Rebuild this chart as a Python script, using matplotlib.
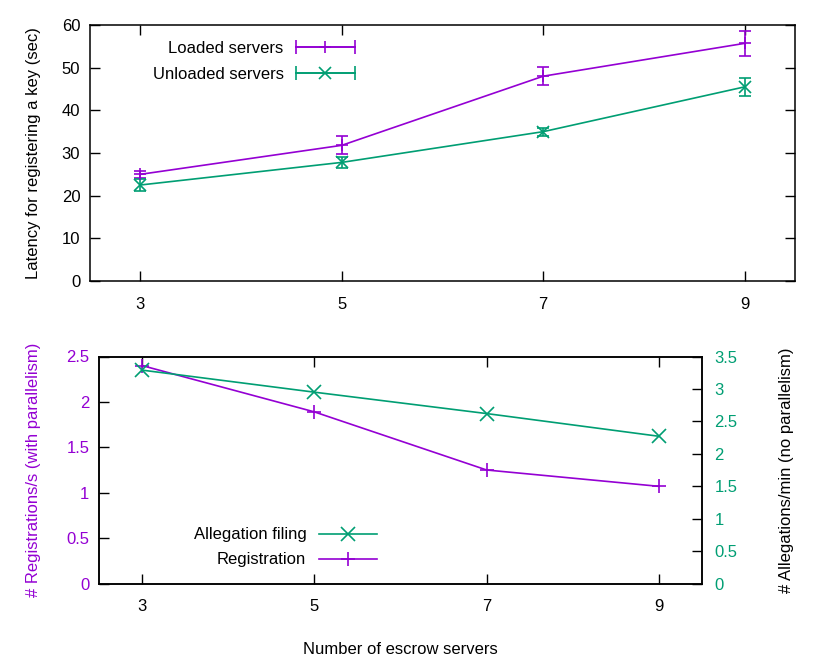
import matplotlib
matplotlib.use("Agg")
import matplotlib.pyplot as plt
from matplotlib.lines import Line2D
from matplotlib.legend_handler import HandlerLine2D, HandlerTuple

plt.rcParams['font.family'] = ['Liberation Sans', 'DejaVu Sans']
plt.rcParams['font.size'] = 12

# ---- data ----
servers = [3, 5, 7, 9]
loaded = [25.0, 31.8, 48.0, 55.7]
loaded_err = [0.8, 2.1, 2.1, 3.0]
unloaded = [22.5, 27.8, 35.0, 45.5]
unloaded_err = [1.3, 1.2, 0.9, 2.1]

registration = [2.40, 1.89, 1.25, 1.07]
allegation = [3.29, 2.95, 2.62, 2.27]

xticks = [3, 5, 7, 9]
top_yticks = [0, 10, 20, 30, 40, 50, 60]
left_yticks = [0, 0.5, 1, 1.5, 2, 2.5]
right_yticks = [0, 0.5, 1, 1.5, 2, 2.5, 3, 3.5]

PURPLE = '#9400D3'
GREEN = '#009E73'

W, H = 830, 664
fig = plt.figure(figsize=(W / 100, H / 100), dpi=100)

def style_axes(ax):
    for s in ax.spines.values():
        s.set_linewidth(1.1)
    ax.tick_params(direction='in', length=7, width=1.0, pad=7)
    ax.tick_params(axis='x', pad=11.5)

# ---- top plot ----
ax1 = fig.add_axes([90 / W, 1 - 281 / H, (795 - 90) / W, (281 - 25) / H])
ax1.errorbar(servers, loaded, yerr=loaded_err, color=PURPLE, marker='+', ms=9,
             mew=1.2, lw=1.2, capsize=4.5, elinewidth=1.2, capthick=1.2)
ax1.errorbar(servers, unloaded, yerr=unloaded_err, color=GREEN, marker='x', ms=9,
             mew=1.2, lw=1.2, capsize=4.5, elinewidth=1.2, capthick=1.2)
ax1.set_xlim(2.5, 9.5)
ax1.set_ylim(0, 60)
ax1.set_xticks(xticks)
ax1.set_yticks(top_yticks)
style_axes(ax1)
ax1.tick_params(top=True, right=True, labeltop=False, labelright=False)
ax1.set_ylabel('Latency for registering a key (sec)', labelpad=15)

def err_handle(color, marker):
    caps = Line2D([], [], color=color, lw=1.2, marker='|', ms=10, mew=1.2)
    mid = Line2D([], [], color=color, lw=1.2, marker=marker, ms=9, mew=1.2)
    return caps, mid

c1, m1 = err_handle(PURPLE, '+')
c2, m2 = err_handle(GREEN, 'x')
hmap = {c1: HandlerLine2D(numpoints=2, marker_pad=0),
        c2: HandlerLine2D(numpoints=2, marker_pad=0),
        m1: HandlerLine2D(numpoints=1), m2: HandlerLine2D(numpoints=1),
        tuple: HandlerTuple(ndivide=1)}
ax1.legend([(c1, m1), (c2, m2)], ['Loaded servers', 'Unloaded servers'],
           handler_map=hmap, loc='upper left', bbox_to_anchor=(0.07, 0.99),
           frameon=False, markerfirst=False, handlelength=3.5,
           handletextpad=0.75, labelspacing=0.65, borderaxespad=0.4)

# ---- bottom plot ----
ax2 = fig.add_axes([99 / W, 1 - 583.5 / H, (702 - 99) / W, (583.5 - 356.5) / H])
ax3 = ax2.twinx()
l_reg, = ax2.plot(servers, registration, color=PURPLE, marker='+', ms=10, mew=1.2, lw=1.2)
l_all, = ax3.plot(servers, allegation, color=GREEN, marker='x', ms=10, mew=1.2, lw=1.2)
ax2.set_xlim(2.5, 9.5)
ax2.set_ylim(0, 2.5)
ax3.set_ylim(0, 3.5)
ax2.set_xticks(xticks)
ax2.set_yticks(left_yticks)
ax3.set_yticks(right_yticks)
style_axes(ax2)
style_axes(ax3)
ax2.tick_params(axis='x', top=True)
ax2.tick_params(axis='y', labelcolor=PURPLE, color='black', right=False)
ax3.tick_params(axis='y', labelcolor=GREEN, color='black', pad=9)
ax2.set_yticklabels(['0', '0.5', '1', '1.5', '2', '2.5'])
ax3.set_yticklabels(['0', '0.5', '1', '1.5', '2', '2.5', '3', '3.5'])
ax2.set_ylabel('# Registrations/s (with parallelism)', color=PURPLE, labelpad=18)
ax3.set_ylabel('# Allegations/min (no parallelism)', color='black', labelpad=30)
ax2.set_xlabel('Number of escrow servers', labelpad=20)
ax3.legend([l_all, l_reg], ['Allegation filing', 'Registration'],
           loc='lower left', bbox_to_anchor=(0.132, 0.005), frameon=False,
           markerfirst=False, handlelength=3.5, handletextpad=0.75,
           labelspacing=0.6)

fig.savefig('out.png', dpi=100)
